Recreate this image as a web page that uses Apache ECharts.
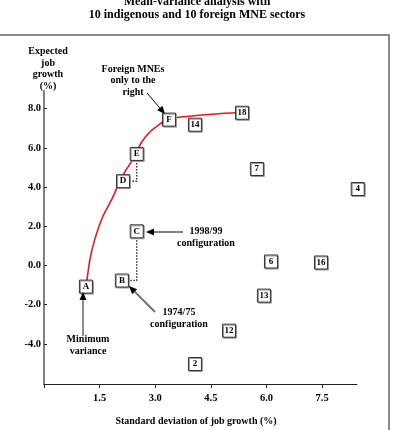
<!DOCTYPE html>
<html>
<head>
<meta charset="utf-8">
<script src="https://cdn.jsdelivr.net/npm/echarts@6/dist/echarts.min.js"></script>
<style>
html, body { margin: 0; padding: 0; background: #fff; }
#chart { width: 393px; height: 430px; }
</style>
</head>
<body>
<div id="chart"></div>
<script>
// boxes: A-F are indigenous configurations, numbers are foreign MNE sectors
const boxNames = ['A', 'B', 'C', 'D', 'E', 'F', '14', '18', '7', '4', '6', '16', '13', '12', '2']
const boxSd = [1.13, 2.1, 2.5, 2.13, 2.5, 3.37, 4.07, 5.34, 5.74, 8.46, 6.12, 7.47, 5.93, 4.99, 4.07]
const boxGrowth = [-1.08, -0.77, 1.74, 4.3, 5.69, 7.44, 7.18, 7.79, 4.92, 3.9, 0.2, 0.15, -1.54, -3.33, -5.03]

// red frontier curve
const frontierSd = [1.13, 1.16, 1.24, 1.37, 1.59, 1.83, 1.99, 2.18, 2.37, 2.64, 2.86, 3.07, 3.21, 3.56, 4.07, 5.2, 5.34]
const frontierGrowth = [-1.08, -0.72, 0.31, 1.33, 2.51, 3.38, 4.05, 4.77, 5.33, 6.31, 6.82, 7.13, 7.33, 7.54, 7.64, 7.79, 7.79]

const xTicks = [0, 1.5, 3, 4.5, 6, 7.5]
const xLabels = [1.5, 3, 4.5, 6, 7.5]
const yTicks = [-4, -2, 0, 2, 4, 6, 8]

const FONT = '"Liberation Serif", "Times New Roman", serif'

const pt = name => [boxSd[boxNames.indexOf(name)], boxGrowth[boxNames.indexOf(name)]]
// dotted connector: down from the upper box, then across to the lower one
const connector = (upper, lower) => {
    const u = pt(upper), l = pt(lower)
    return [u, [u[0], l[1]], l]
}

function text (str, x, y, size, lh) {
    return {
        type: 'text', x: x, y: y, z: 20,
        style: {
            text: str, fill: '#000', align: 'center', verticalAlign: 'middle',
            font: 'bold ' + size + 'px ' + FONT, lineHeight: lh || size + 1.5
        }
    }
}

function arrow (x1, y1, x2, y2, shaft) {
    const a = Math.atan2(y2 - y1, x2 - x1)
    const L = 8, W = 3.5
    const bx = x2 - L * Math.cos(a), by = y2 - L * Math.sin(a)
    const px = -Math.sin(a) * W, py = Math.cos(a) * W
    return [
        { type: 'line', z: 20, shape: { x1: x1, y1: y1, x2: bx, y2: by }, style: { stroke: shaft, lineWidth: shaft === '#000' ? 1 : 2 } },
        { type: 'polygon', z: 20, shape: { points: [[x2, y2], [bx + px, by + py], [bx - px, by - py]] }, style: { fill: '#000' } }
    ]
}

const myChart = echarts.init(document.getElementById('chart'))

const dotted = {
    type: 'line', symbol: 'none', silent: true, z: 2,
    lineStyle: { color: '#333', width: 1.5, type: [1.5, 1.5] }
}

myChart.setOption({
    animation: false,
    grid: { left: 44, top: 91, right: 36, bottom: 46 },
    xAxis: {
        type: 'value', min: 0, max: 8.44,
        splitLine: { show: false },
        axisLine: { onZero: false, lineStyle: { color: '#222', width: 1 } },
        axisTick: { customValues: xTicks, length: 4, lineStyle: { color: '#222' } },
        axisLabel: {
            customValues: xLabels, margin: 9,
            formatter: v => v.toFixed(1),
            color: '#000', fontFamily: FONT, fontWeight: 'bold', fontSize: 10.5
        }
    },
    yAxis: {
        type: 'value', min: -6.05, max: 8.9,
        splitLine: { show: false },
        axisLine: { onZero: false, lineStyle: { color: '#808080', width: 2 } },
        axisTick: { customValues: yTicks, inside: true, length: 3, lineStyle: { color: '#222' } },
        axisLabel: {
            customValues: yTicks, margin: 3,
            formatter: v => v.toFixed(1),
            color: '#000', fontFamily: FONT, fontWeight: 'bold', fontSize: 10.5
        }
    },
    series: [
        {
            type: 'line', smooth: 0.3, symbol: 'none', silent: true, z: 2,
            lineStyle: { color: '#e31a1a', width: 1.6 },
            data: frontierSd.map((x, i) => [x, frontierGrowth[i]])
        },
        Object.assign({ data: connector('E', 'D') }, dotted),
        Object.assign({ data: connector('C', 'B') }, dotted),
        {
            type: 'scatter', clip: false, z: 5,
            symbol: 'rect', symbolSize: 13,
            itemStyle: {
                color: '#fff', borderColor: '#333', borderWidth: 1,
                shadowColor: '#999', shadowOffsetX: 1, shadowOffsetY: 1, opacity: 1
            },
            label: {
                show: true, position: 'inside', formatter: p => p.data[2],
                color: '#000', fontFamily: FONT, fontWeight: 'bold', fontSize: 9
            },
            data: boxNames.map((n, i) => [boxSd[i], boxGrowth[i], n])
        }
    ],
    graphic: [
        { type: 'rect', z: 1, shape: { x: -2, y: 35, width: 391, height: 410 }, style: { fill: 'none', stroke: '#8a8a8a', lineWidth: 2 } },
        text('Mean-variance analysis with\n10 indigenous and 10 foreign MNE sectors', 197, 8.5, 12, 13),
        text('Expected\njob\ngrowth\n(%)', 48, 69, 10, 11.4),
        text('Standard deviation of job growth (%)', 196, 421, 10),
        text('Foreign MNEs\nonly to the\nright', 133, 80.7, 10, 11.5),
        text('1998/99\nconfiguration', 206, 237, 10, 12),
        text('1974/75\nconfiguration', 179, 318.5, 10, 11.5),
        text('Minimum\nvariance', 88, 345.5, 10, 11.5)
    ]
        .concat(arrow(147, 93, 165, 114, '#000'))
        .concat(arrow(183, 232, 146, 232, '#000'))
        .concat(arrow(155, 312, 129, 286, '#707070'))
        .concat(arrow(83, 336, 83, 292, '#909090'))
})
</script>
</body>
</html>
